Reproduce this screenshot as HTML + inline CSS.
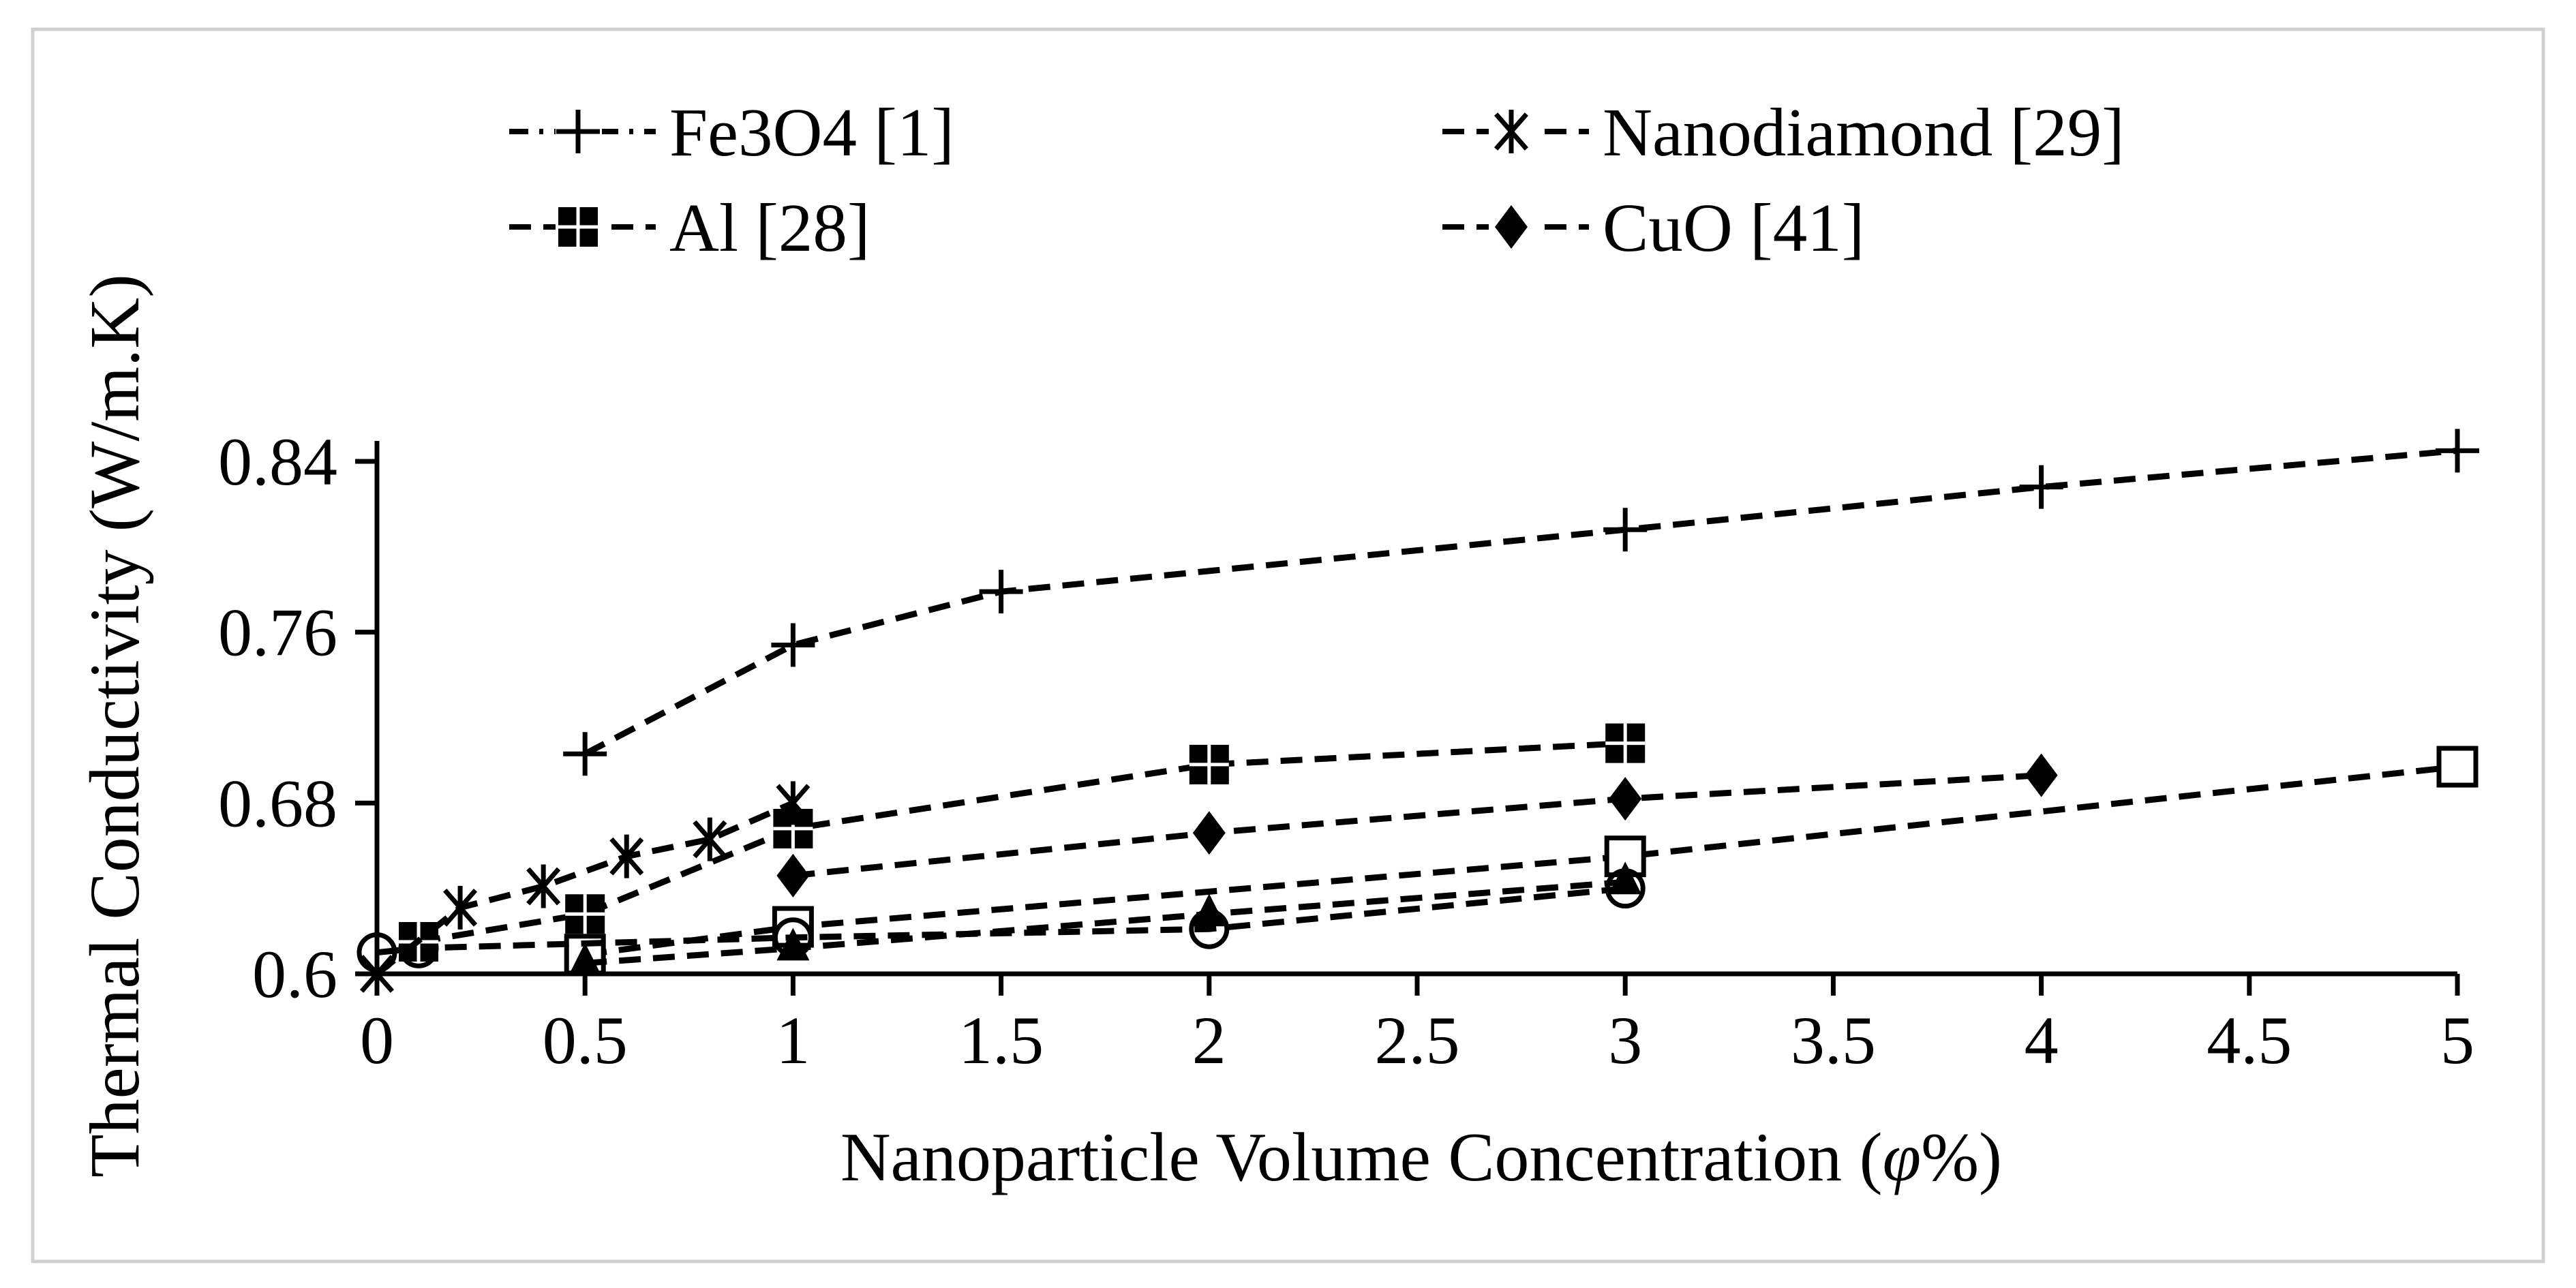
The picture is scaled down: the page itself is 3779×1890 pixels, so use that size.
<!DOCTYPE html>
<html><head><meta charset="utf-8">
<style>
html,body{margin:0;padding:0;background:#fff;}
svg{display:block;font-family:"Liberation Serif",serif;}
</style></head>
<body>
<svg id="chart" width="3779" height="1890" viewBox="0 0 3779 1890" xmlns="http://www.w3.org/2000/svg">
<rect x="48" y="43" width="3683" height="1808" fill="#fff" stroke="#d0d0d0" stroke-width="5"/>
<g id="plot"></g>
</svg>
<script>
const xTicks = [0,0.5,1,1.5,2,2.5,3,3.5,4,4.5,5];
const xTickLabels = ["0","0.5","1","1.5","2","2.5","3","3.5","4","4.5","5"];
const yTicks = [0.6,0.68,0.76,0.84];
const yTickLabels = ["0.6","0.68","0.76","0.84"];

const fe3o4X = [0.5,1,1.5,3,4,5];
const fe3o4Y = [0.703,0.754,0.779,0.808,0.828,0.845];
const nanodiamondX = [0,0.2,0.4,0.6,0.8,1];
const nanodiamondY = [0.600,0.631,0.641,0.655,0.663,0.680];
const alX = [0.1,0.5,1,2,3];
const alY = [0.615,0.628,0.668,0.698,0.708];
const cuoX = [1,2,3,4];
const cuoY = [0.646,0.666,0.682,0.693];
const squareX = [0.5,1,3,5];
const squareY = [0.609,0.622,0.655,0.697];
const circleX = [0,0.1,1,2,3];
const circleY = [0.610,0.612,0.617,0.621,0.640];
const triangleX = [0.5,1,2,3];
const triangleY = [0.605,0.612,0.628,0.643];

const X0=553, X1=3605, Y0=1429, Y1=677;
const xs = v => X0 + (v-0)/(5-0)*(X1-X0);
const ys = v => Y0 - (v-0.6)/(0.84-0.6)*(Y0-Y1);
const NS="http://www.w3.org/2000/svg";
const g=document.getElementById('plot');
function mk(tag, attrs, parent){const e=document.createElementNS(NS,tag);for(const k in attrs)e.setAttribute(k,attrs[k]);(parent||g).appendChild(e);return e;}

let a=mk('line',{x1:X0,y1:Y1-30,x2:X0,y2:Y0,stroke:'#000','stroke-width':7});


a=mk('line',{x1:X0,y1:Y0,x2:X1,y2:Y0,stroke:'#000','stroke-width':7});


xTicks.forEach((t,i)=>{
  const tk=mk('line',{x1:xs(t),y1:Y0,x2:xs(t),y2:Y0+32,stroke:'#000','stroke-width':7});
  
  
  const tx=mk('text',{x:xs(t),y:1560,'font-size':100,'text-anchor':'middle'});
  tx.textContent=xTickLabels[i];
  
  
});
yTicks.forEach((t,i)=>{
  const tk=mk('line',{x1:X0-32,y1:ys(t),x2:X0,y2:ys(t),stroke:'#000','stroke-width':7});
  
  
  const tx=mk('text',{x:495,y:ys(t)+34,'font-size':100,'text-anchor':'end'});
  tx.textContent=yTickLabels[i];
  
  
});
let t=mk('text',{x:2085,y:1732,'font-size':102,'text-anchor':'middle'});
t.innerHTML='Nanoparticle Volume Concentration (<tspan font-style="italic">φ</tspan>%)';


t=mk('text',{x:0,y:0,'font-size':104,'text-anchor':'middle',transform:'translate(203,1065) rotate(-90)'});
t.textContent='Thermal Conductivity (W/m.K)';



function marker(type,x,y,parent){
  const s=32;
  const p=parent||g;
  let e;
  if(type==='plus'){
    e=mk('path',{d:`M${x-s} ${y}H${x+s}M${x} ${y-s}V${y+s}`,stroke:'#000','stroke-width':7,fill:'none'},p);
  } else if(type==='star'){
    e=mk('path',{d:`M${x} ${y-s}V${y+s}M${x-s*0.7} ${y-s*0.8}L${x+s*0.7} ${y+s*0.8}M${x+s*0.7} ${y-s*0.8}L${x-s*0.7} ${y+s*0.8}`,stroke:'#000','stroke-width':7,fill:'none'},p);
  } else if(type==='squareplus'){
    e=mk('g',{},p);
    mk('rect',{x:x-29,y:y-29,width:58,height:58,fill:'#000'},e);
    mk('path',{d:`M${x-29} ${y}H${x+29}M${x} ${y-29}V${y+29}`,stroke:'#fff','stroke-width':5},e);
  } else if(type==='diamond'){
    e=mk('path',{d:`M${x} ${y-32}L${x+24} ${y}L${x} ${y+32}L${x-24} ${y}Z`,fill:'#000'},p);
  } else if(type==='square'){
    e=mk('rect',{x:x-27,y:y-27,width:54,height:54,fill:'#fff',stroke:'#000','stroke-width':7},p);
  } else if(type==='circle'){
    e=mk('circle',{cx:x,cy:y,r:26,fill:'none',stroke:'#000','stroke-width':7},p);
  } else if(type==='triangle'){
    e=mk('path',{d:`M${x} ${y-30}L${x+24} ${y+18}L${x-24} ${y+18}Z`,fill:'#000'},p);
  }
  return e;
}
function series(name,X,Y,type){
  const sg=mk('g',{});
  
  
  const pts=X.map((v,i)=>xs(v)+','+ys(Y[i])).join(' ');
  const pl=mk('polyline',{points:pts,fill:'none',stroke:'#000','stroke-width':9,'stroke-dasharray':'32 18'},sg);
  
  
  X.forEach((v,i)=>{
    const m=marker(type,xs(v),ys(Y[i]),sg);
    
    
  });
}
series('square-open',squareX,squareY,'square');
series('circle-open',circleX,circleY,'circle');
series('triangle',triangleX,triangleY,'triangle');
series('cuo',cuoX,cuoY,'diamond');
series('al',alX,alY,'squareplus');
series('nanodiamond',nanodiamondX,nanodiamondY,'star');
series('fe3o4',fe3o4X,fe3o4Y,'plus');

const legendNames=['Fe3O4 [1]','Nanodiamond [29]','Al [28]','CuO [41]'];
const legendTypes=['plus','star','squareplus','diamond'];
const legendPos=[[747,193],[2116,193],[747,333],[2116,333]];
legendNames.forEach((n,i)=>{
  const [lx,ly]=legendPos[i];
  const lg=mk('g',{});
  
  
  mk('line',{x1:lx,y1:ly,x2:lx+215,y2:ly,stroke:'#000','stroke-width':8,'stroke-dasharray':i===0?'28 16 6 16':'32 18'},lg);
  mk('rect',{x:lx+68,y:ly-34,width:68,height:68,fill:'#fff'},lg);
  marker(legendTypes[i],lx+101,ly,lg);
  const tx=mk('text',{x:lx+235,y:ly+35,'font-size':101},lg);
  tx.textContent=n;
});
</script>
</body></html>
